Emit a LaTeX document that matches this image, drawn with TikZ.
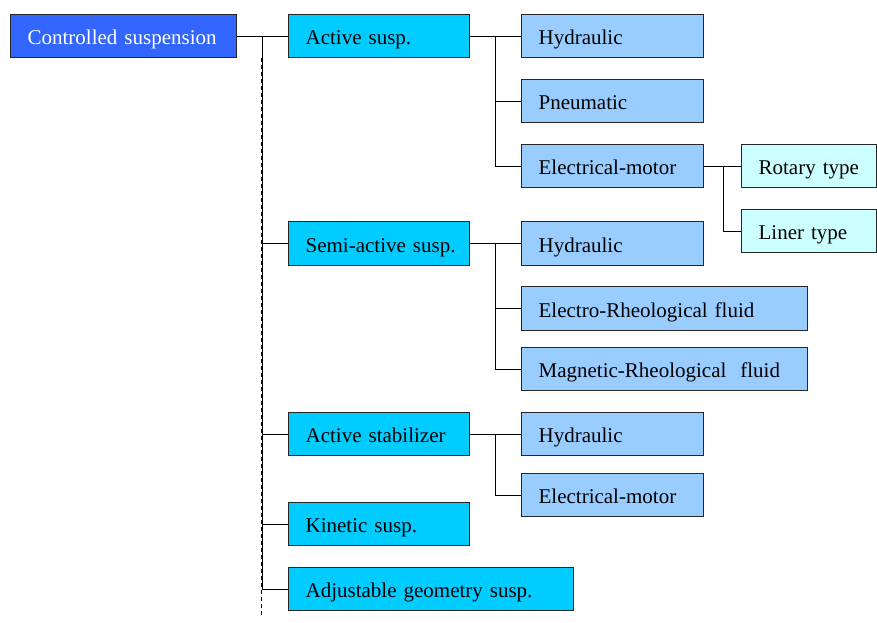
\documentclass[tikz,border=0pt]{standalone}
\usepackage{fontspec}
\setmainfont{Liberation Serif}
\definecolor{rootc}{HTML}{3366FF}
\definecolor{lonec}{HTML}{00CCFF}
\definecolor{ltwoc}{HTML}{99CCFF}
\definecolor{lthreec}{HTML}{CCFFFF}
\begin{document}
\begin{tikzpicture}[x=1pt,y=-1pt,
  bx/.style={draw=black!85, line width=1.2pt, anchor=north west, inner xsep=17pt, inner ysep=0pt,
    minimum height=43pt, align=left, text height=18pt, text depth=1pt,
    font=\fontsize{21}{24}\selectfont},
  rootbox/.style={bx, fill=rootc, text=white},
  lone/.style={bx, fill=lonec},
  ltwo/.style={bx, fill=ltwoc},
  lthree/.style={bx, fill=lthreec},
  conn/.style={draw=black, line width=1pt}]
\useasboundingbox (0,0) rectangle (877,622);
\node[rootbox, text width=192pt] (root) at (10,14) {\mbox{Controlled suspension}};
\node[lone, text width=147pt] (a1) at (288,14) {\mbox{Active susp.}};
\node[lone, text width=147pt, minimum height=44pt] (a2) at (288,221) {\mbox{Semi-active susp.}};
\node[lone, text width=147pt] (a3) at (288,412) {\mbox{Active stabilizer}};
\node[lone, text width=147pt] (a4) at (288,502) {\mbox{Kinetic susp.}};
\node[lone, text width=251pt] (a5) at (288,567) {\mbox{Adjustable geometry susp.}};
\node[ltwo, text width=148pt] (b1) at (521,14) {\mbox{Hydraulic}};
\node[ltwo, text width=148pt] (b2) at (521,79) {\mbox{Pneumatic}};
\node[ltwo, text width=148pt] (b3) at (521,144) {\mbox{Electrical-motor}};
\node[ltwo, text width=148pt, minimum height=44pt] (c1) at (521,221) {\mbox{Hydraulic}};
\node[ltwo, text width=252pt, minimum height=44pt] (c2) at (521,286) {\mbox{Electro-Rheological fluid}};
\node[ltwo, text width=252pt] (c3) at (521,347) {\mbox{Magnetic-Rheological\ \ fluid}};
\node[ltwo, text width=148pt] (d1) at (521,412) {\mbox{Hydraulic}};
\node[ltwo, text width=148pt] (d2) at (521,473) {\mbox{Electrical-motor}};
\node[lthree, text width=101pt] (e1) at (741,144) {\mbox{Rotary type}};
\node[lthree, text width=101pt] (e2) at (741,209) {\mbox{Liner type}};
% trunks
\coordinate (t0) at (262,36);
\coordinate (tend) at (261,618);
\coordinate (ta) at (495,36);
\coordinate (tb) at (723,166);
\draw[conn] (root.east) -- (root.east -| t0) |- (a5.west);
\draw[conn, dashed, dash pattern=on 4pt off 3pt] ([xshift=-1pt]t0 |- root.south) -- (tend);
\foreach \n in {a1,a2,a3,a4} \draw[conn] (t0 |- \n.west) -- (\n.west);
\draw[conn] (a1.east) -- (a1.east -| ta) |- (b3.west);
\draw[conn] (ta |- b1.west) -- (b1.west);
\draw[conn] (ta |- b2.west) -- (b2.west);
\draw[conn] (a2.east) -- (a2.east -| ta) |- (c3.west);
\draw[conn] (ta |- c1.west) -- (c1.west);
\draw[conn] (ta |- c2.west) -- (c2.west);
\draw[conn] (a3.east) -- (a3.east -| ta) |- (d2.west);
\draw[conn] (ta |- d1.west) -- (d1.west);
\draw[conn] (b3.east) -- (b3.east -| tb) |- (e2.west);
\draw[conn] (tb |- e1.west) -- (e1.west);
\end{tikzpicture}
\end{document}
